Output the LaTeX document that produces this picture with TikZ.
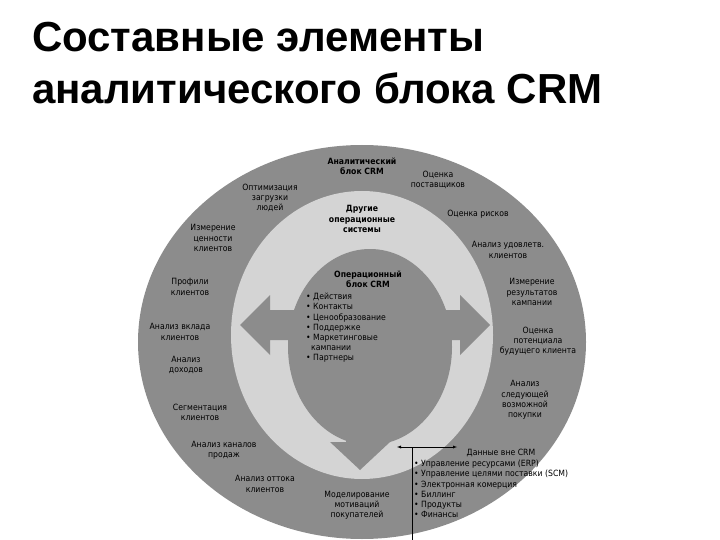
\documentclass[tikz,border=0pt]{standalone}
\usepackage{fontspec}
\setmainfont{Liberation Sans}
\newfontfamily\dfont{DejaVu Sans Condensed}
\definecolor{dark}{HTML}{8C8C8C}
\definecolor{light}{HTML}{D4D4D4}
\begin{document}
\begin{tikzpicture}[x=1pt,y=-1pt,
  lab/.style={font=\dfont\fontsize{8.6}{10.2}\selectfont,align=center,inner sep=0pt},
  blab/.style={lab,font=\dfont\bfseries\fontsize{8.6}{10.2}\selectfont},
  arr/.style={fill=dark,draw=none}]
\useasboundingbox (0,0) rectangle (720,540);
\fill[white] (0,0) rectangle (720,540);
\node[anchor=north west,font=\bfseries\fontsize{42}{52}\selectfont,align=left,inner sep=0pt] (title) at (32,22) {Составные элементы\\аналитического блока CRM};
\begin{scope}
\clip (128,138) rectangle (595,540);
\fill[dark] (362,342) ellipse [x radius=224, y radius=197];
\fill[light] (362,335) ellipse [x radius=131, y radius=144];
\fill[dark] (370,347) ellipse [x radius=82, y radius=98];
% arrows
\fill[arr] (300,310) -- (270,310) -- (270,295) -- (240,325) -- (270,355) -- (270,340) -- (300,340) -- cycle;
\fill[arr] (440,310) -- (460,310) -- (460,295) -- (490,325) -- (460,355) -- (460,340) -- (440,340) -- cycle;
\fill[arr] (346,430) -- (346,442) -- (330,442) -- (360,470) -- (390,442) -- (374,442) -- (374,430) -- cycle;
\end{scope}
\node[blab] (ab) at (362,166) {Аналитический\\блок CRM};
\node[blab] (dr) at (362,219) {Другие\\операционные\\системы};
\node[blab] (ob) at (368,279) {Операционный\\блок CRM};
\node[lab,align=left,anchor=north west] (ol) at (306,293) {• Действия\\• Контакты\\• Ценообразование\\• Поддержке\\• Маркетинговые\\\ \ кампании\\• Партнеры};
\node[lab] (a1) at (270,198) {Оптимизация\\загрузки\\людей};
\node[lab] (a2) at (213,238) {Измерение\\ценности\\клиентов};
\node[lab] (a3) at (190,287) {Профили\\клиентов};
\node[lab] (a4) at (180,332) {Анализ вклада\\клиентов};
\node[lab] (a5) at (186,365) {Анализ\\доходов};
\node[lab] (a6) at (200,412) {Сегментация\\клиентов};
\node[lab] (a7) at (224,450) {Анализ каналов\\продаж};
\node[lab] (a8) at (265,484) {Анализ оттока\\клиентов};
\node[lab] (a9) at (357,505) {Моделирование\\мотиваций\\покупателей};
\node[lab] (b1) at (438,180) {Оценка\\поставщиков};
\node[lab] (b2) at (478,214) {Оценка рисков};
\node[lab] (b3) at (508,250) {Анализ удовлетв.\\клиентов};
\node[lab] (b4) at (532,292) {Измерение\\результатов\\кампании};
\node[lab] (b5) at (538,341) {Оценка\\потенциала\\будущего клиента};
\node[lab] (b6) at (525,400) {Анализ\\следующей\\возможной\\покупки};
\node[lab] (dh) at (501,453) {Данные вне CRM};
\node[lab,align=left,anchor=north west] (dl) at (414,460) {• Управление ресурсами (ERP)\\• Управление целями поставки (SCM)\\• Электронная комерция\\• Биллинг\\• Продукты\\• Финансы};
\coordinate (l) at (397,447);
\coordinate (r) at (457,447);
\coordinate (v) at (412,447);
\coordinate (vb) at (412,540);
\draw[-latex,thin] (v) -- (l);
\draw[-latex,thin] (v) -- (r);
\draw[thin] (v) -- (vb);
\end{tikzpicture}
\end{document}
